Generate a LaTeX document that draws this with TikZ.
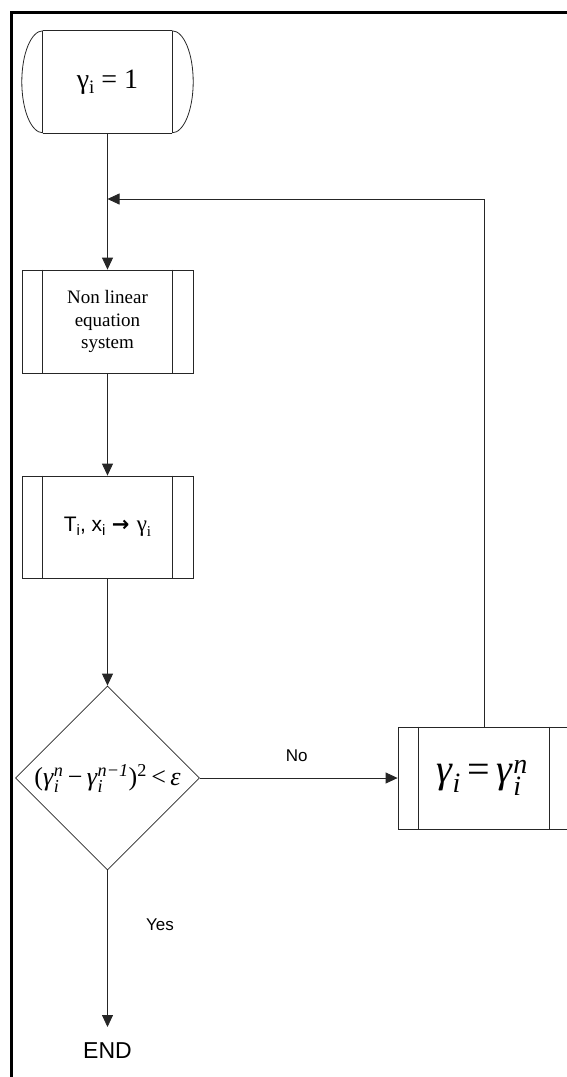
\documentclass[tikz,border=0pt]{standalone}
\usepackage{amsmath}
\usepackage{fontspec}
\setmainfont{Liberation Serif}
\setsansfont{Liberation Sans}
\newfontfamily\arrowfont{DejaVu Sans}
\usetikzlibrary{shapes.geometric,arrows.meta}

% italic gamma with stacked superscript / subscript
\newcommand\gam[2]{\textit{γ}$^{\text{\itshape #1}}_{\text{\itshape #2}}$}

\tikzset{
  line/.style={line width=0.8pt, draw=black!85},
  flow/.style={line, -{Triangle[length=12pt,width=11pt]}},
  procbox/.style={line, rectangle, minimum width=171pt, minimum height=103pt,
    inner sep=0pt, align=center},
  decision/.style={line, diamond, minimum width=184pt, minimum height=184pt,
    inner sep=0pt, aspect=1},
  lbl/.style={font=\sffamily\fontsize{17}{20}\selectfont, inner sep=0pt},
}

\begin{document}
\begin{tikzpicture}[x=1pt,y=-1pt]
\useasboundingbox (0,0) rectangle (567,1077);

% outer frame (only top and left edges fall inside the page)
\draw[line width=3pt] (11,1090) -- (11,12) -- (580,12);

% start terminator
\node[inner sep=0pt, minimum width=129pt, minimum height=102pt,
      font=\fontsize{28}{32}\selectfont] (start) at (107.5,82)
      {γ\raisebox{-0.2em}{\fontsize{19}{19}\selectfont i} = 1};
\draw[line] (start.north west) -- (start.north east)
            (start.south west) -- (start.south east)
            (start.north west) -- (start.south west)
            (start.north east) -- (start.south east);
\draw[line] (start.north west) arc[start angle=90, end angle=270, x radius=21pt, y radius=51pt];
\draw[line] (start.north east) arc[start angle=90, end angle=-90, x radius=21pt, y radius=51pt];

% non linear equation system
\node[procbox, font=\fontsize{19}{22.5}\selectfont] (nles) at (107.5,321.5)
      {Non linear\\equation\\system};
\draw[line] ([xshift=21pt]nles.north west) -- ([xshift=21pt]nles.south west)
            ([xshift=-21pt]nles.north east) -- ([xshift=-21pt]nles.south east);

% property evaluation
\node[procbox, minimum height=102pt, font=\sffamily\fontsize{21}{24}\selectfont] (prop) at (107.5,527)
      {T\raisebox{-0.2em}{\fontsize{15}{15}\selectfont i}, x\raisebox{-0.2em}{\fontsize{15}{15}\selectfont i}\hspace{0.3em}%
       {\arrowfont\bfseries\fontsize{21}{24}\selectfont →}\hspace{0.35em}%
       {\rmfamily\fontsize{23}{24}\selectfont γ\raisebox{-0.2em}{\fontsize{15}{15}\selectfont i}}};
\draw[line] ([xshift=21pt]prop.north west) -- ([xshift=21pt]prop.south west)
            ([xshift=-21pt]prop.north east) -- ([xshift=-21pt]prop.south east);

% convergence test
\node[decision, font=\fontsize{26}{28}\selectfont] (test) at (107.5,778)
      {(\gam{n}{i}\,−\,\gam{n−1}{i})$^{\text{2}}$\,<\,\textit{ε}};

% update box
\node[procbox, minimum width=172pt, minimum height=102pt, font=\fontsize{40}{44}\selectfont] (upd) at (484,778)
      {\hspace{-4pt}\textit{γ}$_{\text{\itshape i}}$\,=\,\gam{n}{i}};
\draw[line] ([xshift=21pt]upd.north west) -- ([xshift=21pt]upd.south west)
            ([xshift=-21pt]upd.north east) -- ([xshift=-21pt]upd.south east);

% end label
\node[anchor=north, font=\sffamily\fontsize{23}{26}\selectfont, inner xsep=0pt,
      inner ysep=0pt, text height=16.5pt, text depth=0pt, yshift=-15pt] (fin) at (107.5,1027) {END};
\coordinate (finTip) at (107.5,1027);

% loop junction
\coordinate (join) at (107.5,199);

% connectors
\draw[flow] (start.south) -- (nles.north);
\draw[flow] (nles.south) -- (prop.north);
\draw[flow] (prop.south) -- (test.north);
\draw[flow] (test.east) -- node[lbl, above=16pt, pos=0.49] {No} (upd.west);
\draw[flow] (upd.north) |- (join);
\draw[flow] (test.south) -- (finTip);

% branch label
\node[lbl] (yes) at (160,925) {Yes};
\end{tikzpicture}
\end{document}
